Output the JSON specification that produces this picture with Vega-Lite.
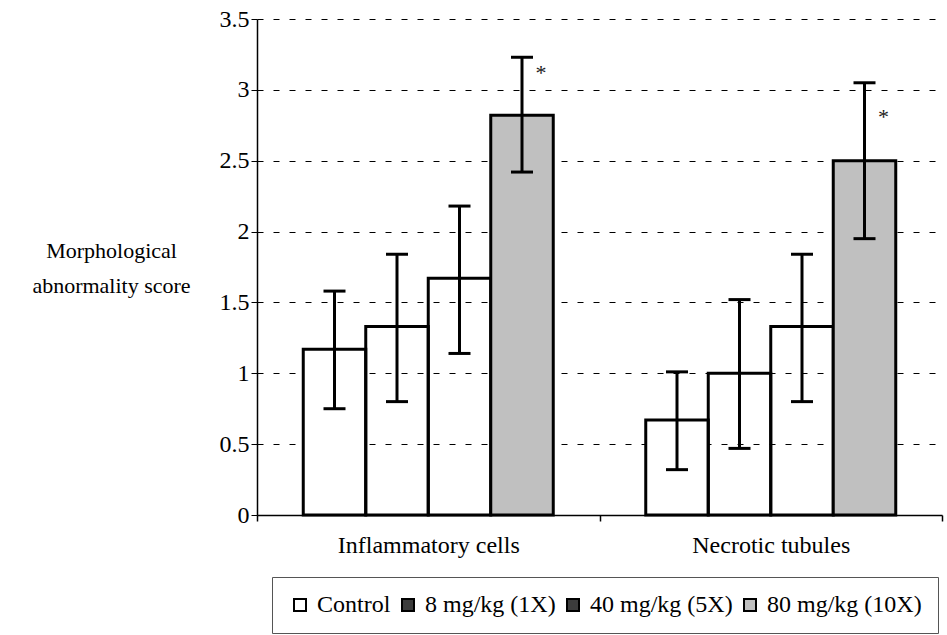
{
  "$schema": "https://vega.github.io/schema/vega-lite/v6.json",
  "width": 685,
  "height": 496,
  "autosize": "none",
  "padding": {"left": 257, "top": 19, "right": 5, "bottom": 120},
  "background": "white",
  "config": {
    "font": "Liberation Serif",
    "view": {"stroke": null}
  },
  "datasets": {
    "bars": [
      {"category": "Inflammatory cells", "group": "Control", "mean": 1.17, "lo": 0.75, "hi": 1.58},
      {"category": "Inflammatory cells", "group": "8 mg/kg (1X)", "mean": 1.33, "lo": 0.80, "hi": 1.84},
      {"category": "Inflammatory cells", "group": "40 mg/kg (5X)", "mean": 1.67, "lo": 1.14, "hi": 2.18},
      {"category": "Inflammatory cells", "group": "80 mg/kg (10X)", "mean": 2.82, "lo": 2.42, "hi": 3.23},
      {"category": "Necrotic tubules", "group": "Control", "mean": 0.67, "lo": 0.32, "hi": 1.01},
      {"category": "Necrotic tubules", "group": "8 mg/kg (1X)", "mean": 1.0, "lo": 0.47, "hi": 1.52},
      {"category": "Necrotic tubules", "group": "40 mg/kg (5X)", "mean": 1.33, "lo": 0.80, "hi": 1.84},
      {"category": "Necrotic tubules", "group": "80 mg/kg (10X)", "mean": 2.5, "lo": 1.95, "hi": 3.05}
    ],
    "stars": [
      {"category": "Inflammatory cells", "group": "80 mg/kg (10X)", "sy": 3.07, "label": "*"},
      {"category": "Necrotic tubules", "group": "80 mg/kg (10X)", "sy": 2.76, "label": "*"}
    ]
  },
  "encoding": {
    "x": {
      "field": "category",
      "type": "nominal",
      "sort": null,
      "scale": {"paddingInner": 0, "paddingOuter": 0},
      "axis": {
        "title": null,
        "labelAngle": 0,
        "labelFontSize": 24,
        "labelLimit": 0,
        "labelColor": "black",
        "labelPadding": 12,
        "domainColor": "black",
        "domainWidth": 1.5,
        "tickColor": "black",
        "tickWidth": 1.5,
        "tickSize": 6,
        "tickBand": "extent"
      }
    },
    "xOffset": {
      "field": "group",
      "type": "nominal",
      "sort": ["Control", "8 mg/kg (1X)", "40 mg/kg (5X)", "80 mg/kg (10X)"],
      "scale": {"paddingInner": 0, "paddingOuter": 0.74}
    }
  },
  "layer": [
    {
      "data": {"name": "bars"},
      "mark": {"type": "bar", "stroke": "black", "strokeWidth": 3},
      "encoding": {
        "y": {
          "field": "mean",
          "type": "quantitative",
          "scale": {"domain": [0, 3.5], "nice": false},
          "axis": {
            "values": [0, 0.5, 1, 1.5, 2, 2.5, 3, 3.5],
            "labelExpr": "datum.value",
            "labelFontSize": 24,
            "labelColor": "black",
            "labelPadding": 2,
            "domainColor": "black",
            "domainWidth": 1.5,
            "tickColor": "black",
            "tickWidth": 1,
            "tickSize": 6,
            "grid": true,
            "gridColor": "black",
            "gridWidth": 1,
            "gridDash": [6, 10],
            "title": ["Morphological", "abnormality score"],
            "titleAngle": 0,
            "titleFontSize": 22,
            "titleFontWeight": "normal",
            "titleColor": "black",
            "titleAlign": "center",
            "titleBaseline": "middle",
            "titleLineHeight": 35,
            "titleX": -146,
            "titleY": 231
          }
        },
        "fill": {
          "field": "group",
          "type": "nominal",
          "sort": ["Control", "8 mg/kg (1X)", "40 mg/kg (5X)", "80 mg/kg (10X)"],
          "scale": {"range": ["white", "#3c3c3c", "#3c3c3c", "#c0c0c0"]},
          "legend": {
            "title": null,
            "orient": "none",
            "legendX": 15,
            "legendY": 558,
            "direction": "horizontal",
            "symbolType": "square",
            "symbolSize": 144,
            "symbolStrokeColor": "black",
            "symbolStrokeWidth": 2,
            "labelFontSize": 24,
            "labelColor": "black",
            "labelOffset": 5,
            "labelLimit": 300,
            "columnPadding": 5,
            "padding": 16,
            "strokeColor": "#555555",
            "fillColor": "white"
          }
        },
        "fillOpacity": {
          "condition": {"test": "datum.group === '8 mg/kg (1X)' || datum.group === '40 mg/kg (5X)'", "value": 0},
          "value": 1
        }
      }
    },
    {
      "data": {"name": "bars"},
      "mark": {"type": "rule", "color": "black", "strokeWidth": 3},
      "encoding": {
        "y": {"field": "lo", "type": "quantitative"},
        "y2": {"field": "hi"}
      }
    },
    {
      "data": {"name": "bars"},
      "mark": {"type": "tick", "color": "black", "size": 22, "thickness": 3, "orient": "horizontal", "opacity": 1},
      "encoding": {
        "y": {"field": "lo", "type": "quantitative"}
      }
    },
    {
      "data": {"name": "bars"},
      "mark": {"type": "tick", "color": "black", "size": 22, "thickness": 3, "orient": "horizontal", "opacity": 1},
      "encoding": {
        "y": {"field": "hi", "type": "quantitative"}
      }
    },
    {
      "data": {"name": "stars"},
      "mark": {"type": "text", "fontSize": 22, "dx": 19, "baseline": "alphabetic", "color": "#222222"},
      "encoding": {
        "y": {"field": "sy", "type": "quantitative"},
        "text": {"field": "label"}
      }
    }
  ]
}
